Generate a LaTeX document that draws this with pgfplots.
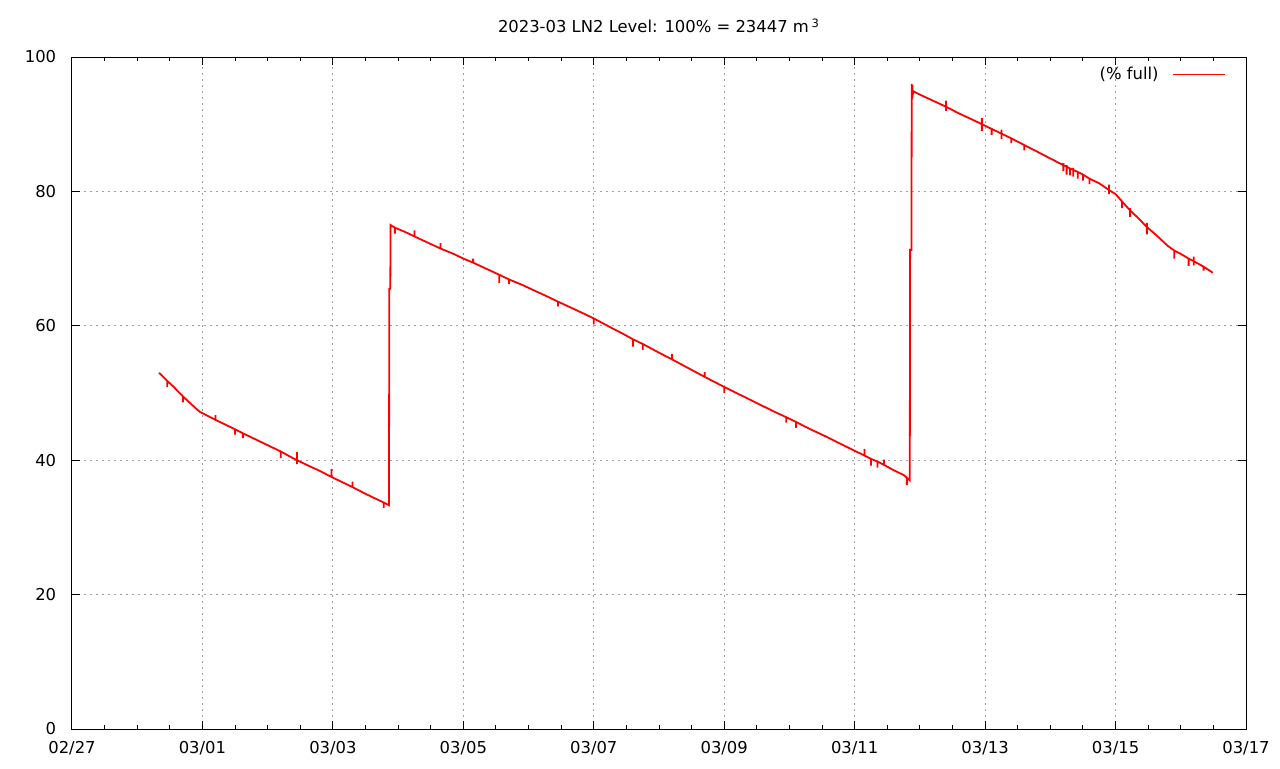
\documentclass[border=0pt]{standalone}
\usepackage{pgfplots}
\pgfplotsset{compat=1.18}
\usepackage{fontspec}
\setmainfont{DejaVu Sans}
\begin{document}
\fontsize{8.2}{10}\selectfont
\begin{tikzpicture}
\begin{axis}[
  scale only axis,
  width=587pt, height=336pt,
  xmin=0, xmax=18, ymin=0, ymax=100,
  xtick={0,2,...,18},
  xticklabels={02/27,03/01,03/03,03/05,03/07,03/09,03/11,03/13,03/15,03/17},
  minor x tick num=3,
  ytick={0,20,...,100},
  /pgf/number format/assume math mode=true,
  tick style={black, line width=0.5pt},
  major tick length=4pt, minor tick length=2.2pt,
  axis line style={black, line width=0.5pt},
  grid=major,
  major grid style={gray!75, line width=0.5pt, dash pattern=on 1pt off 2pt},
  yticklabel style={xshift=-5pt},
  xticklabel style={yshift=-3pt},
  ticklabel style={font=\fontsize{8.2}{10}\selectfont},
  title={2023-03 LN2 Level: 100\% = 23447 m\,\textsuperscript{3}},
  title style={at={(0.5,1)}, anchor=center, yshift=9.5pt, font=\fontsize{8.2}{10}\selectfont},
  legend plot pos=right,
  legend style={at={(1,1)}, anchor=north east, xshift=-7pt, yshift=-1pt, draw=none, fill=none, font=\fontsize{8.2}{10}\selectfont},
  legend image code/.code={\draw[red, line width=0.5pt] (0pt,0pt) -- (26pt,0pt);},
]
\addplot[red, line width=0.9pt] coordinates {
(1.334,53.0) (1.38,52.6)
(1.46,51.8) (1.46,50.9) (1.46,51.8)
(1.55,51.0) (1.65,50.0)
(1.70,49.5) (1.70,48.6) (1.70,49.5)
(1.80,48.6) (1.90,47.7) (1.96,47.2)
(2.10,46.5)
(2.20,46.0) (2.20,46.7) (2.20,46.0)
(2.35,45.3)
(2.50,44.6) (2.50,43.8) (2.50,44.6)
(2.62,44.0) (2.62,43.3) (2.62,44.0)
(2.75,43.4) (2.90,42.7) (3.05,42.0)
(3.20,41.3) (3.20,40.3) (3.20,41.3)
(3.35,40.5)
(3.45,40.0) (3.45,41.2) (3.45,39.4) (3.45,40.0)
(3.60,39.3) (3.80,38.4)
(3.98,37.5) (3.98,38.7) (3.98,37.5)
(4.15,36.7)
(4.30,36.0) (4.30,36.8) (4.30,36.0)
(4.50,35.0) (4.65,34.3)
(4.78,33.7) (4.78,32.9) (4.78,33.7)
(4.86,33.3) (4.865,65.5) (4.88,65.5) (4.885,75.0)
(4.95,74.6) (4.95,73.7) (4.95,74.6)
(5.10,74.0)
(5.25,73.3) (5.25,74.2) (5.25,73.3)
(5.45,72.4)
(5.65,71.5) (5.65,72.3) (5.65,71.5)
(5.85,70.7) (6.00,70.0)
(6.15,69.4) (6.15,70.0) (6.15,69.4)
(6.35,68.5)
(6.55,67.6) (6.55,66.4) (6.55,67.6)
(6.70,66.9) (6.70,66.2) (6.70,66.9)
(6.90,66.1) (7.10,65.2) (7.30,64.3)
(7.45,63.6) (7.45,62.9) (7.45,63.6)
(7.65,62.7) (7.85,61.8)
(8.00,61.1) (8.00,60.2) (8.00,61.1)
(8.25,59.8) (8.45,58.8)
(8.60,58.0) (8.60,56.9) (8.60,58.0)
(8.75,57.3) (8.75,56.4) (8.75,57.3)
(9.00,56.0)
(9.20,55.0) (9.20,55.8) (9.20,55.0)
(9.45,53.7)
(9.70,52.4) (9.70,53.1) (9.70,52.4)
(9.90,51.4)
(10.00,50.9) (10.00,50.0) (10.00,50.9)
(10.25,49.7) (10.50,48.5) (10.75,47.3)
(10.95,46.4) (10.95,45.6) (10.95,46.4)
(11.10,45.7) (11.10,44.8) (11.10,45.7)
(11.30,44.7) (11.50,43.8) (11.75,42.6) (12.00,41.4)
(12.15,40.7) (12.15,41.7) (12.15,40.7)
(12.25,40.2) (12.25,39.2) (12.25,40.2)
(12.35,39.8) (12.35,38.9) (12.35,39.8)
(12.45,39.3) (12.45,40.1) (12.45,39.3)
(12.60,38.5) (12.75,37.8)
(12.80,37.4) (12.80,36.3) (12.80,37.4)
(12.845,37.0) (12.85,71.3) (12.87,71.3)
(12.875,96.0) (12.88,94.2) (12.885,95.8) (12.89,94.4) (12.90,94.9)
(13.00,94.4) (13.20,93.5)
(13.40,92.6) (13.40,93.5) (13.40,92.0) (13.40,92.6)
(13.60,91.6) (13.80,90.7)
(13.95,90.0) (13.95,90.9) (13.95,89.0) (13.95,90.0)
(14.10,89.3) (14.10,88.4) (14.10,89.3)
(14.25,88.6) (14.25,89.2) (14.25,87.8) (14.25,88.6)
(14.40,87.9) (14.40,87.2) (14.40,87.9)
(14.60,86.9) (14.60,86.1) (14.60,86.9)
(14.80,85.9) (15.00,84.9) (15.10,84.4)
(15.20,83.9) (15.20,83.0) (15.20,84.2) (15.20,83.9)
(15.25,83.7) (15.25,82.5) (15.25,83.9) (15.25,83.7)
(15.30,83.4) (15.30,82.4) (15.30,83.4)
(15.35,83.2) (15.35,82.2) (15.35,83.5) (15.35,83.2)
(15.42,82.9) (15.42,81.9) (15.42,82.9)
(15.50,82.5) (15.50,81.6) (15.50,82.5)
(15.60,81.9) (15.60,81.1) (15.60,81.9)
(15.75,81.2)
(15.90,80.2) (15.90,81.0) (15.90,79.6) (15.90,80.2)
(16.00,79.6)
(16.10,78.5) (16.10,77.5) (16.10,78.5)
(16.22,77.2) (16.22,76.2) (16.22,77.5) (16.22,77.2)
(16.35,76.0)
(16.48,74.7) (16.48,75.3) (16.48,73.6) (16.48,74.7)
(16.60,73.7) (16.70,72.8) (16.80,71.9)
(16.90,71.2) (16.90,70.0) (16.90,71.2)
(17.00,70.7)
(17.12,70.0) (17.12,68.9) (17.12,70.0)
(17.20,69.6) (17.20,70.3) (17.20,69.0) (17.20,69.6)
(17.35,68.8) (17.35,68.2) (17.35,68.8)
(17.49,67.9)
};
\addlegendentry{(\% full)\hspace*{5pt}}
\end{axis}
\pgfresetboundingbox
\path (current axis.south west) ++(-36pt,-19.5pt) coordinate (bbsw);
\path (current axis.north east) ++(17pt,28.5pt) coordinate (bbne);
\path (bbsw) rectangle (bbne);
\end{tikzpicture}
\end{document}
